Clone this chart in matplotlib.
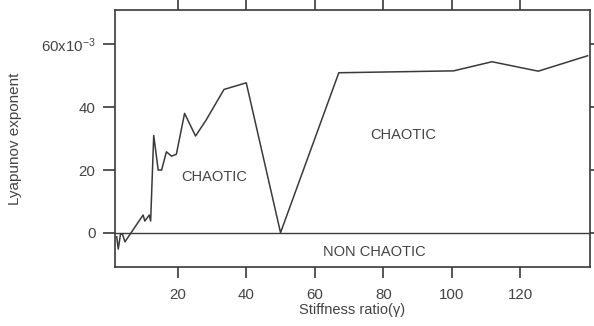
import matplotlib
matplotlib.use("Agg")
import matplotlib.pyplot as plt

plt.rcParams['font.family'] = ['Liberation Sans', 'DejaVu Sans']
plt.rcParams['mathtext.fontset'] = 'custom'
plt.rcParams['mathtext.rm'] = 'Liberation Sans'
plt.rcParams['mathtext.it'] = 'Liberation Sans'

stiffness = [2.2, 2.65, 3.3, 3.9, 4.6, 9.9, 10.4, 11.7, 12.1, 13.0, 14.3, 15.3,
             16.7, 18.2, 19.6, 22.0, 25.2, 28.3, 33.5, 40.0, 50.0, 67.0, 100.5,
             111.7, 125.2, 139.6]
lyapunov = [-1.2, -5.1, -0.4, -0.4, -2.8, 5.7, 3.8, 5.7, 3.8, 31.0, 20.0, 20.0,
            25.8, 24.4, 25.0, 38.0, 30.8, 35.9, 45.6, 47.7, 0.1, 50.9, 51.5,
            54.4, 51.4, 56.3]
lyapunov = [v * 1e-3 for v in lyapunov]

xticks = [20, 40, 60, 80, 100, 120]
yticks = [0, 0.02, 0.04, 0.06]
ytick_labels = ['0', '20', '40', '60x10$^{-3}$']

col = '#3a3a3a'
tcol = '#444444'
fig = plt.figure(figsize=(5.94, 3.26), dpi=100)
ax = fig.add_axes([0.1936, 0.181, 0.7997, 0.788])
ax.plot(stiffness, lyapunov, color=col, lw=1.1)
ax.axhline(0, color=col, lw=1.0)
ax.set_xlim(1.7, 140.3)
ax.set_ylim(-0.0108, 0.0708)

ax.set_xticks(xticks)
ax.set_xticklabels([str(t) for t in xticks])
ax.set_yticks(yticks)
ax.set_yticklabels(ytick_labels)
ax.tick_params(axis='both', direction='out', colors=col, labelcolor=tcol,
               labelsize=10.8, width=1.2)
ax.tick_params(axis='x', length=8, top=True, pad=7)
ax.tick_params(axis='y', length=9, right=True, pad=5)
for s in ax.spines.values():
    s.set_color(col)
    s.set_linewidth(1.2)

for t in ax.xaxis.get_major_ticks():
    t.tick2line.set_markersize(10)
for t in ax.yaxis.get_major_ticks():
    t.tick2line.set_markersize(4)

ax.text(30.5, 0.0178, 'CHAOTIC', ha='center', va='center', fontsize=10.5, color=tcol)
ax.text(85.7, 0.0311, 'CHAOTIC', ha='center', va='center', fontsize=10.5, color=tcol)
ax.text(77.3, -0.006, 'NON CHAOTIC', ha='center', va='center', fontsize=10.5, color=tcol)

ax.set_xlabel('Stiffness ratio(\u03b3)', fontsize=10.5, color=tcol, labelpad=1)
ax.set_ylabel('Lyapunov exponent', fontsize=11, color=tcol, labelpad=14)

fig.savefig('out.png', dpi=100)
